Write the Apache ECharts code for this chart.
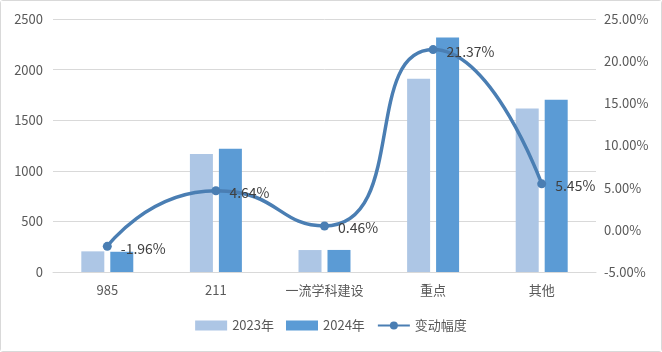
<!DOCTYPE html>
<html>
<head>
<meta charset="utf-8">
<script src="https://cdn.jsdelivr.net/npm/echarts@6/dist/echarts.min.js"></script>
<style>
  html, body { margin: 0; padding: 0; background: #fff; }
  #chart {
    width: 660px; height: 350px;
    border: 1px solid #d9d9d9; border-radius: 3px;
  }
</style>
</head>
<body>
<div id="chart"></div>
<script>
const categories = ['985', '211', '一流学科建设', '重点', '其他']
const count2023 = [204, 1165, 217, 1909, 1615]
const count2024 = [200, 1219, 218, 2317, 1703]
const changePct = [-1.96, 4.64, 0.46, 21.37, 5.45]

const colors = ['#adc6e5', '#5b9bd5', '#4a7eb3']
const textColor = '#595959'
const fontFamily = '"Microsoft YaHei", "Noto Sans CJK SC", sans-serif'

const chart = echarts.init(document.getElementById('chart'))

chart.setOption({
  backgroundColor: '#fff',
  animation: false,
  textStyle: { fontFamily },
  color: colors,
  grid: { left: 52, right: 65, top: 18, bottom: 79 },
  legend: {
    bottom: 14,
    left: 'center',
    itemWidth: 32,
    itemHeight: 10,
    itemGap: 12,
    textStyle: { color: textColor, fontSize: 13 },
    data: [
      { name: '2023年', icon: 'rect' },
      { name: '2024年', icon: 'rect' },
      { name: '变动幅度' }
    ]
  },
  xAxis: {
    type: 'category',
    data: categories,
    axisLine: { lineStyle: { color: '#d9d9d9' } },
    axisTick: { show: false },
    axisLabel: { color: textColor, fontSize: 13, margin: 12 }
  },
  yAxis: [
    {
      type: 'value',
      min: 0, max: 2500, interval: 500,
      axisLine: { show: false },
      axisTick: { show: false },
      axisLabel: { color: textColor, fontSize: 13, margin: 10, formatter: v => String(v) },
      splitLine: { lineStyle: { color: '#d9d9d9' } }
    },
    {
      type: 'value',
      min: -5, max: 25, interval: 5,
      axisLine: { show: false },
      axisTick: { show: false },
      axisLabel: {
        color: textColor, fontSize: 13, margin: 8,
        formatter: v => v.toFixed(2) + '%'
      },
      splitLine: { show: false }
    }
  ],
  series: [
    {
      name: '2023年',
      type: 'bar',
      data: count2023,
      barWidth: 23,
      barGap: '26%',
      itemStyle: { color: colors[0] }
    },
    {
      name: '2024年',
      type: 'bar',
      data: count2024,
      barWidth: 23,
      itemStyle: { color: colors[1] }
    },
    {
      name: '变动幅度',
      type: 'line',
      yAxisIndex: 1,
      data: changePct,
      smooth: 0.6,
      symbol: 'circle',
      symbolSize: 9,
      lineStyle: { width: 3.5, color: colors[2] },
      itemStyle: { color: colors[2] },
      label: {
        show: true,
        position: 'right',
        distance: 9,
        offset: [0, 2],
        color: '#404040',
        fontSize: 14,
        formatter: p => p.value.toFixed(2) + '%'
      },
      z: 5
    }
  ]
})
</script>
</body>
</html>
